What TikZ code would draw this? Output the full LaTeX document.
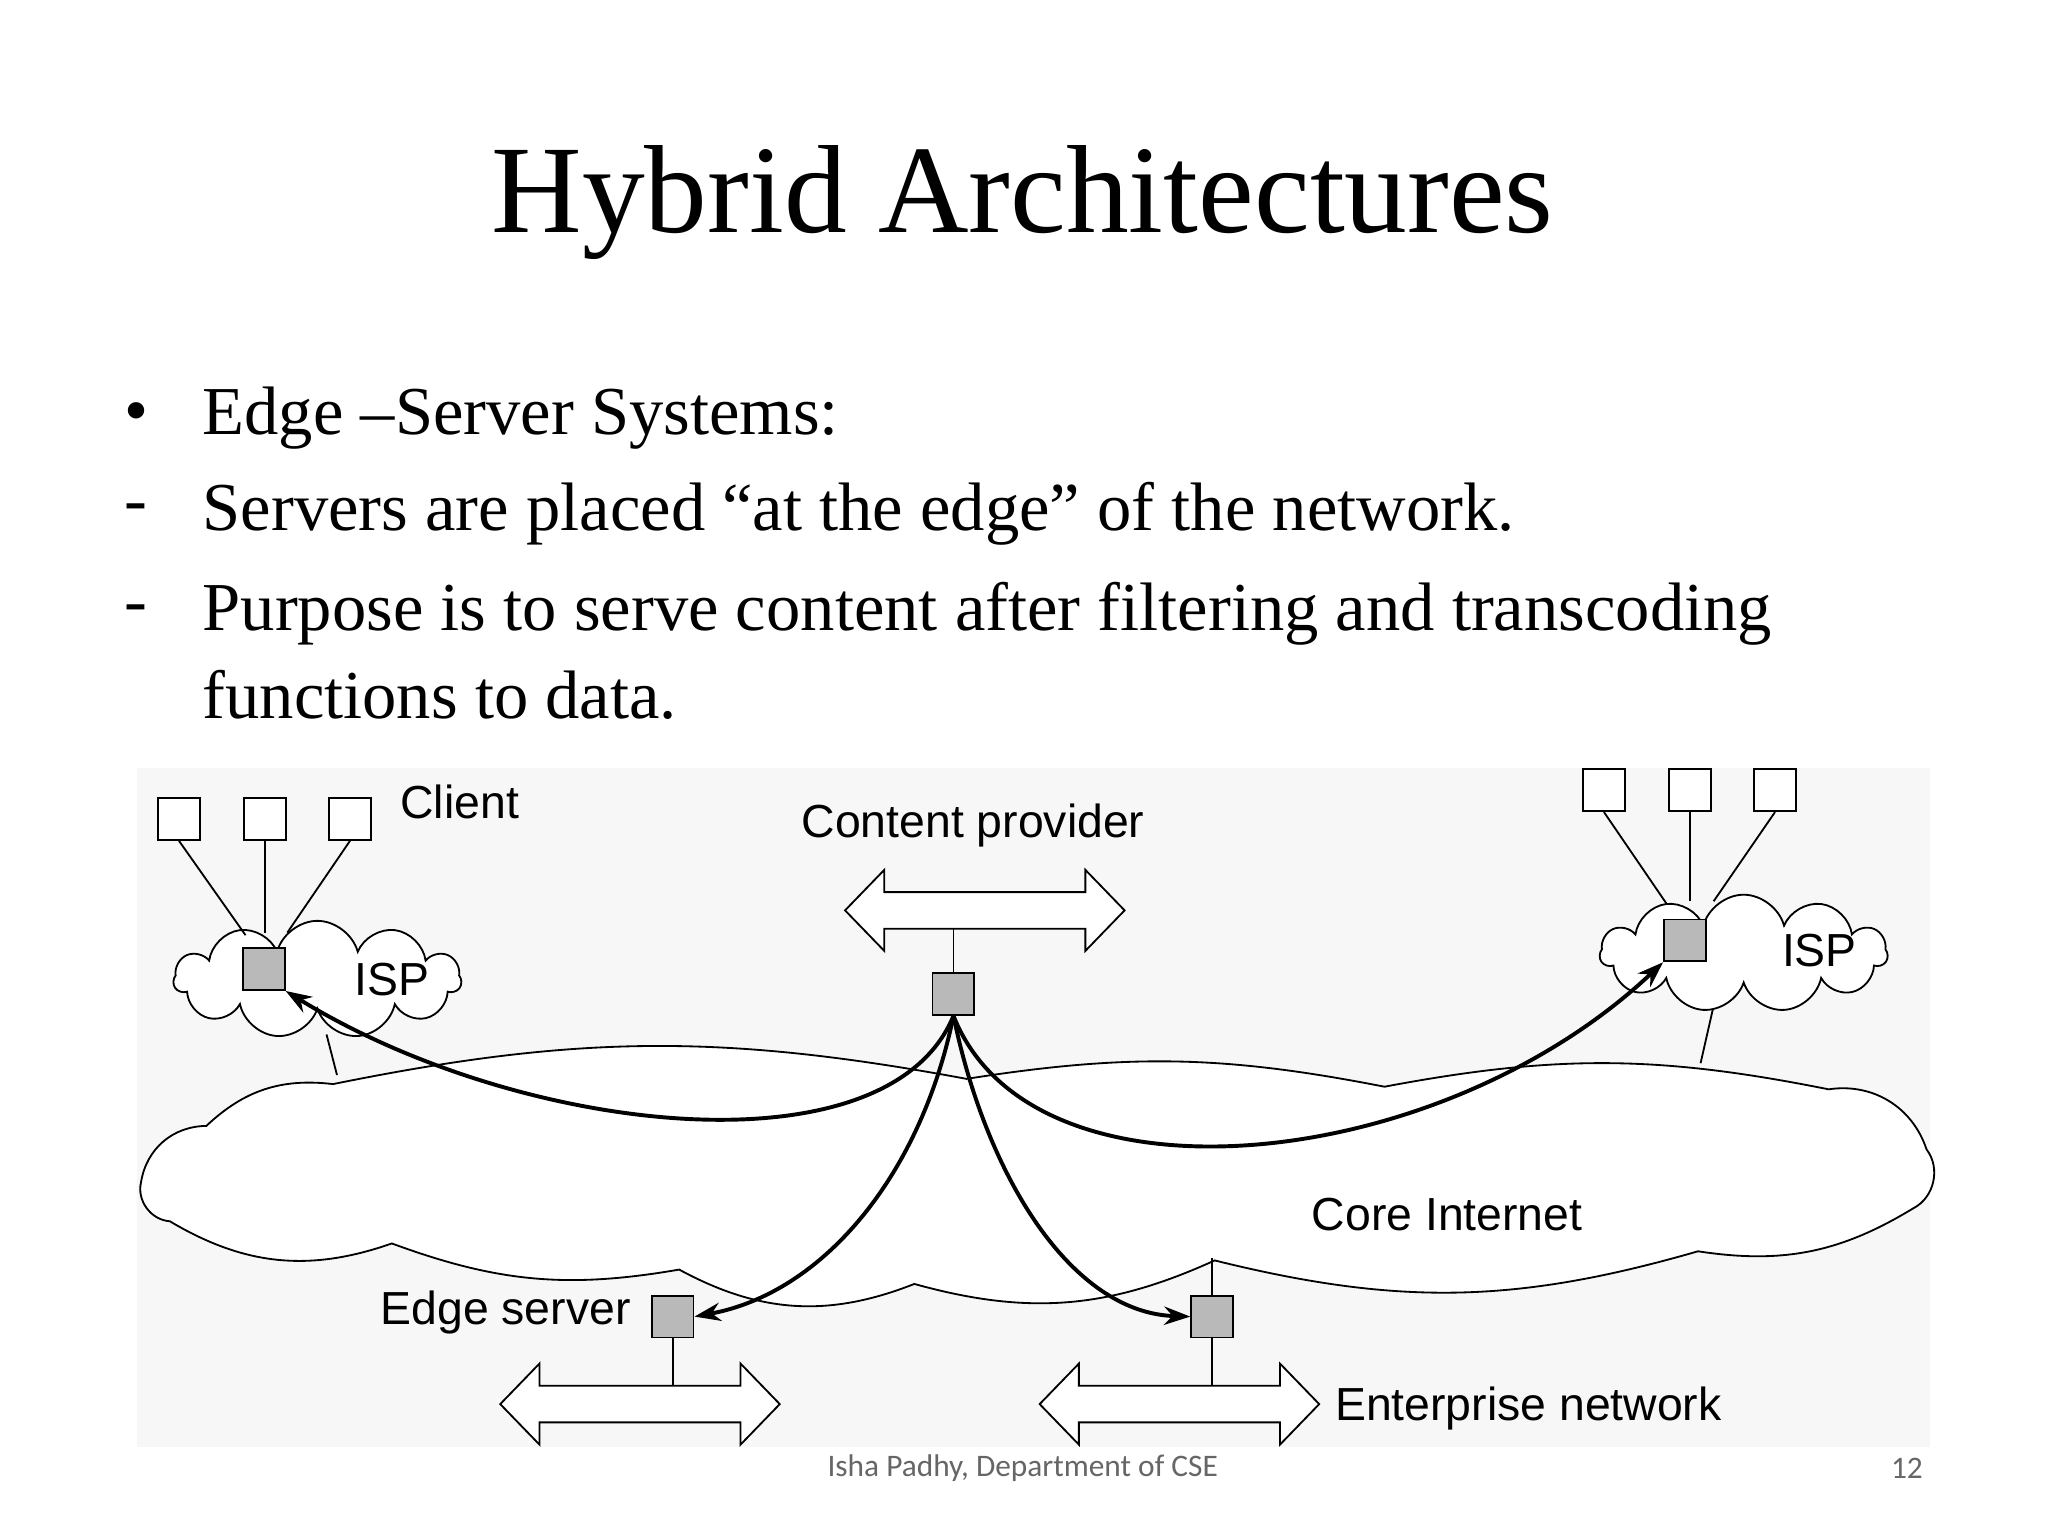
\documentclass[tikz,border=0pt]{standalone}
\usepackage{fontspec}
\setmainfont{Liberation Serif}
\newfontfamily\dsans{Liberation Sans}
\newfontfamily\fsans{Carlito}
\usetikzlibrary{shapes.symbols,arrows.meta}
\begin{document}
\begin{tikzpicture}[x=1pt,y=-1pt,
  sq/.style={draw,fill=white,minimum size=32pt,inner sep=0pt,line width=1.4pt},
  gsq/.style={draw,fill=gray!55,minimum size=32pt,inner sep=0pt,line width=1.4pt},
  cld/.style={cloud,draw,fill=white,line width=1.4pt,inner sep=0pt},
  lbl/.style={font=\dsans\fontsize{35.5}{40}\selectfont,inner sep=0pt},
  ln/.style={line width=1.4pt},
  cur/.style={line width=3pt,-{Stealth[length=20pt,width=14pt]}},
  btxt/.style={anchor=west,inner sep=0pt,font=\fontsize{52.5}{60}\selectfont},
  darr/.pic={\draw[line width=1.4pt,fill=white] (-107,0) -- (-77,-31) -- (-77,-14) -- (77,-14) -- (77,-31) -- (107,0) -- (77,31) -- (77,14) -- (-77,14) -- (-77,31) -- cycle;}]
\useasboundingbox (0,0) rectangle (1568,1176);
\fill[white] (0,0) rectangle (1568,1176);
\node[inner sep=0pt,font=\fontsize{96}{110}\selectfont] (title) at (783,155) {Hybrid Architectures};
\node[btxt] (b0) at (95,320) {\textbullet};
\node[btxt] (t1) at (155,320) {Edge --Server Systems:};
\node[btxt] (b1) at (95,393) {-};
\node[btxt] (t2) at (155,393) {Servers are placed ``at the edge'' of the network.};
\node[btxt] (b2) at (95,470) {-};
\node[btxt] (t3) at (155,470) {Purpose is to serve content after filtering and transcoding};
\node[btxt] (t4) at (155,532) {functions to data.};
\fill[gray!6] (105,588) rectangle (1478,1108);
% core cloud
\draw[line width=1.4pt,fill=white] (108,905) to[bend left=40] (158,862) to[bend left=25] (255,830)
  to[bend left=11] (740,826) to[bend left=10] (1060,832) to[bend left=11] (1400,834)
  to[bend left=40] (1475,880) to[bend left=50] (1465,925) to[bend left=20] (1300,958)
  to[bend left=15] (930,965) to[bend left=20] (700,983) to[bend left=25] (520,972)
  to[bend left=15] (300,952) to[bend left=25] (130,935) to[bend left=50] cycle;
\node[lbl] (corelbl) at (1108,930) {Core Internet};
% left ISP
\coordinate (lc1) at (250,792); \coordinate (lc2) at (258,823);
\draw[ln] (lc1) -- (lc2);
\node[cld,minimum width=220pt,minimum height=90pt,cloud puffs=11,aspect=2.6] (lisp) at (243,750) {};
\node[gsq] (lsrv) at (202,742) {};
\node[lbl] (lisplbl) at (300,750) {ISP};
\node[sq] (c1) at (137,627) {}; \node[sq] (c2) at (203,627) {}; \node[sq] (c3) at (268,627) {};
\coordinate (l1) at (188,716); \coordinate (l2) at (203,714); \coordinate (l3) at (220,714);
\draw[ln] (c1.south) -- (l1); \draw[ln] (c2.south) -- (l2); \draw[ln] (c3.south) -- (l3);
\node[lbl] (clbl) at (352,614) {Client};
% right ISP
\coordinate (rc1) at (1312,770); \coordinate (rc2) at (1302,814);
\draw[ln] (rc1) -- (rc2);
\node[cld,minimum width=220pt,minimum height=90pt,cloud puffs=11,aspect=2.6] (risp) at (1335,730) {};
\node[gsq] (rsrv) at (1290,720) {};
\node[lbl] (risplbl) at (1393,728) {ISP};
\node[sq] (d1) at (1228,605) {}; \node[sq] (d2) at (1294,605) {}; \node[sq] (d3) at (1359,605) {};
\coordinate (r1) at (1276,692); \coordinate (r2) at (1294,690); \coordinate (r3) at (1312,690);
\draw[ln] (d1.south) -- (r1); \draw[ln] (d2.south) -- (r2); \draw[ln] (d3.south) -- (r3);
% content provider
\node[lbl] (cplbl) at (745,632) {Content provider};
\pic at (754,697) {darr};
\node[gsq] (cp) at (730,761) {};
\coordinate (cptop) at (730,711);
\draw[ln] (cptop) -- (cp.north);
% edge server
\node[gsq] (es) at (515,1008) {};
\node[lbl,anchor=east] (eslbl) at (483,1005) {Edge server};
\pic at (490,1075) {darr};
\coordinate (esb) at (515,1061);
\draw[ln] (es.south) -- (esb);
% enterprise
\node[gsq] (en) at (928,1008) {};
\coordinate (ent) at (928,963); \coordinate (enb) at (928,1061);
\draw[ln] (ent) -- (en.north); \draw[ln] (en.south) -- (enb);
\pic at (903,1075) {darr};
\node[lbl,anchor=west] (enlbl) at (1022,1078) {Enterprise network};
% curves
\draw[cur] (cp.south) .. controls (680,900) and (400,870) .. (lsrv.south east);
\draw[cur] (cp.south) .. controls (790,930) and (1100,900) .. (rsrv.south west);
\draw[cur] (cp.south) .. controls (705,900) and (630,990) .. (es.east);
\draw[cur] (cp.south) .. controls (755,900) and (820,1005) .. (en.west);
% footer
\node[inner sep=0pt,text=gray!80!black,font=\fsans\fontsize{24}{28}\selectfont] (foot) at (783,1124) {Isha Padhy, Department of CSE};
\node[inner sep=0pt,text=gray!80!black,font=\fsans\fontsize{24}{28}\selectfont] (pg) at (1460,1124) {12};
\end{tikzpicture}
\end{document}
